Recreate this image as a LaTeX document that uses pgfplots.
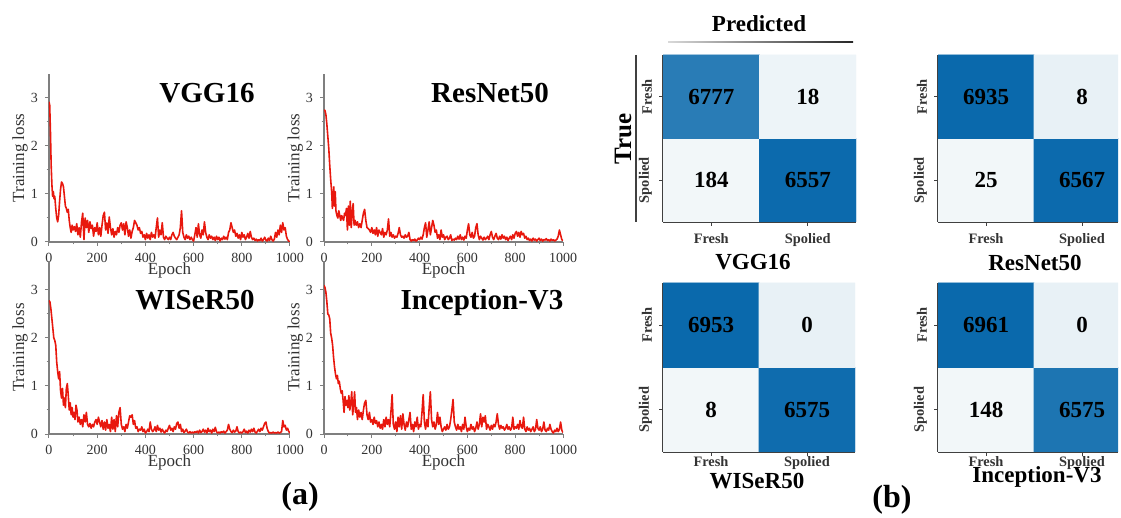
\documentclass[border=0pt]{standalone}
\usepackage{fontspec}
\setmainfont{Liberation Serif}
\usepackage{pgfplots}
\pgfplotsset{compat=1.18}
\definecolor{lossred}{HTML}{E8180E}
\definecolor{axgray}{HTML}{7F7F7F}
\definecolor{txtgray}{HTML}{333333}

\pgfplotsset{
  lossax/.style={
    scale only axis, xmin=0, xmax=1000, ymin=0,
    axis lines=left, axis line style={-, draw=axgray, line width=0.6pt},
    tick style={draw=axgray, line width=0.5pt}, tick align=outside,
    major tick length=2pt, minor tick length=1.2pt,
    xtick={0,200,...,1000}, ytick={0,1,2,3},
    minor x tick num=1, minor y tick num=1,
    ticklabel style={font=\fontsize{7}{8}\selectfont, text=txtgray},
    /pgf/number format/assume math mode=true,
    /pgf/number format/1000 sep={},
    label style={font=\fontsize{8.5}{10}\selectfont, text=txtgray},
    xlabel=Epoch, ylabel=Training loss,
    xlabel style={at={(axis description cs:0.5,0)}, anchor=center, yshift=-14pt},
    ylabel style={at={(axis description cs:-0.12,0.5)}, anchor=center},
  },
  loss/.style={lossred, line width=0.8pt, line join=round},
  cmax/.style={
    scale only axis, xmin=-0.5, ymin=-0.5, ymax=1.5, enlargelimits=false,
    axis x line=bottom, axis y line=left,
    axis line style={-, draw=black!75, line width=0.6pt},
    tick style={draw=black!75, line width=0.5pt}, tick align=outside, major tick length=2pt,
    xtick={0,1}, ytick={0,1},
    xticklabels={Fresh,Spolied}, yticklabels={Spolied,Fresh},
    ticklabel style={font=\fontsize{7.2}{8}\selectfont\bfseries, text=black!80},
    yticklabel style={rotate=90, anchor=south},
    colormap={cmblue}{rgb255(0)=(244,248,250) rgb255(1)=(7,103,171)},
    point meta min=0, point meta max=1,
  },
  cell/.style={matrix plot*, mesh/cols=2, point meta=explicit},
}
\tikzset{cnum/.style={font=\fontsize{11.5}{13}\selectfont\bfseries}}

\begin{document}
\begin{tikzpicture}[x=0.5pt, y=-0.5pt]
\useasboundingbox (0,0) rectangle (1121,518);
\coordinate (L1) at (49,242);
\coordinate (L2) at (324,242);
\coordinate (L3) at (49,434);
\coordinate (L4) at (324,434);
\coordinate (C1) at (663,222);
\coordinate (C2) at (938,222);
\coordinate (C3) at (663,452);
\coordinate (C4) at (938,452);

% ---- (a) training loss curves ----
\begin{axis}[lossax, at={(L1)}, anchor=south west, width=120.5pt, height=84pt, ymax=3.5]
\addplot[loss] coordinates {
(0,2.92)(3,2.85)(6,2.3)(9,1.6)(12,1.2)(15,0.95)(18,1.05)(21,0.9)(24,0.95)(28,0.7)(32,0.5)(36,0.42)(40,0.55)(44,0.85)(48,1.1)(52,1.25)(56,1.22)(60,1.15)(64,0.95)(68,0.75)(72,0.7)(76,0.62)(80,0.68)(84,0.45)(88,0.3)(92,0.2)(96,0.35)(100,0.25)
(105,0.32)(110,0.22)(115,0.38)(120,0.15)(125,0.3)(130,0.1)(135,0.42)(140,0.6)(145,0.05)(150,0.5)(155,0.3)(160,0.45)(165,0.2)(170,0.42)(175,0.28)(180,0.35)(185,0.12)(190,0.3)(195,0.22)(200,0.4)
(205,0.15)(210,0.3)(215,0.12)(220,0.35)(225,0.55)(230,0.62)(235,0.25)(240,0.4)(245,0.18)(250,0.52)(255,0.3)(260,0.15)(265,0.28)(270,0.1)(275,0.22)(280,0.15)(285,0.3)(290,0.2)(295,0.35)(300,0.4)
(305,0.25)(310,0.38)(315,0.15)(320,0.42)(325,0.3)(330,0.12)(335,0.25)(340,0.08)(345,0.22)(350,0.3)(355,0.45)(360,0.4)(365,0.35)(370,0.25)(375,0.3)(380,0.18)(385,0.22)(390,0.1)(395,0.15)(400,0.05)
(405,0.18)(410,0.08)(415,0.15)(420,0.05)(425,0.2)(430,0.1)(435,0.15)(440,0.08)(445,0.3)(450,0.5)(455,0.1)(460,0.25)(465,0.15)(470,0.4)(475,0.1)(480,0.05)(485,0.12)(490,0.08)(495,0.05)(500,0.1)
(505,0.05)(510,0.15)(515,0.2)(520,0.12)(525,0.08)(530,0.05)(535,0.1)(540,0.15)(545,0.3)(550,0.65)(555,0.2)(560,0.1)(565,0.05)(570,0.15)(575,0.08)(580,0.12)(585,0.05)(590,0.1)(595,0.05)(600,0.02)
(605,0.15)(610,0.3)(615,0.1)(620,0.38)(625,0.15)(630,0.08)(635,0.25)(640,0.15)(645,0.42)(650,0.2)(655,0.1)(660,0.05)(665,0.15)(670,0.08)(675,0.12)(680,0.05)(685,0.1)(690,0.03)(695,0.12)(700,0.05)
(705,0.1)(710,0.02)(715,0.08)(720,0.05)(725,0.12)(730,0.06)(735,0.1)(740,0.05)(745,0.2)(750,0.25)(755,0.4)(760,0.3)(765,0.2)(770,0.25)(775,0.12)(780,0.18)(785,0.08)(790,0.15)(795,0.05)(800,0.2)
(805,0.1)(810,0.15)(815,0.05)(820,0.1)(825,0.18)(830,0.08)(835,0.22)(840,0.1)(845,0.05)(850,0.08)(855,0.03)(860,0.06)(865,0.02)(870,0.05)(875,0.03)(880,0.08)(885,0.02)(890,0.05)(895,0.1)(900,0.04)
(905,0.02)(910,0.08)(915,0.03)(920,0.12)(925,0.05)(930,0.02)(935,0.06)(940,0.2)(945,0.1)(950,0.25)(955,0.15)(960,0.35)(965,0.2)(970,0.4)(975,0.25)(980,0.3)(985,0.12)(990,0.05)(995,0.02)(1000,0.0)
};
\end{axis}

\begin{axis}[lossax, at={(L2)}, anchor=south west, width=119.5pt, height=84pt, ymax=3.5]
\addplot[loss] coordinates {
(0,2.75)(4,2.74)(8,2.65)(12,2.45)(16,2.2)(20,1.95)(24,1.6)(28,1.3)(32,1.05)(35,0.7)(38,0.9)(41,1.15)(44,0.75)(47,1.05)(50,0.65)(54,0.55)(58,0.5)(62,0.65)(66,0.55)(70,0.45)(74,0.55)(78,0.5)(82,0.45)(86,0.6)(90,0.55)(94,0.7)(98,0.25)
(102,0.75)(106,0.35)(110,0.85)(114,0.3)(118,0.6)(122,0.8)(126,0.35)(130,0.45)(135,0.35)(140,0.42)(145,0.3)(150,0.38)(155,0.3)(160,0.45)(165,0.6)(170,0.68)(175,0.45)(180,0.3)(185,0.28)(190,0.25)(195,0.2)(200,0.3)
(205,0.18)(210,0.25)(215,0.15)(220,0.3)(225,0.12)(230,0.25)(235,0.2)(240,0.15)(245,0.28)(250,0.1)(255,0.2)(260,0.15)(265,0.25)(270,0.48)(275,0.12)(280,0.2)(285,0.1)(290,0.15)(295,0.08)(300,0.12)
(305,0.1)(310,0.18)(315,0.3)(320,0.15)(325,0.1)(330,0.12)(335,0.08)(340,0.15)(345,0.1)(350,0.12)(355,0.2)(360,0.05)(365,0.02)(370,0.05)(375,0.03)(380,0.06)(385,0.02)(390,0.04)(395,0.08)(400,0.05)
(405,0.1)(410,0.06)(415,0.15)(420,0.3)(425,0.4)(430,0.1)(435,0.25)(440,0.42)(445,0.15)(450,0.3)(455,0.45)(460,0.35)(465,0.2)(470,0.25)(475,0.08)(480,0.15)(485,0.05)(490,0.25)(495,0.1)(500,0.15)
(505,0.05)(510,0.1)(515,0.12)(520,0.05)(525,0.08)(530,0.15)(535,0.03)(540,0.06)(545,0.04)(550,0.08)(555,0.05)(560,0.12)(565,0.06)(570,0.15)(575,0.05)(580,0.1)(585,0.04)(590,0.12)(595,0.08)(600,0.25)
(605,0.38)(610,0.15)(615,0.1)(620,0.2)(625,0.08)(630,0.12)(635,0.3)(640,0.38)(645,0.15)(650,0.05)(655,0.12)(660,0.08)(665,0.04)(670,0.1)(675,0.05)(680,0.08)(685,0.12)(690,0.05)(695,0.15)(700,0.22)
(705,0.1)(710,0.05)(715,0.12)(720,0.18)(725,0.08)(730,0.05)(735,0.12)(740,0.06)(745,0.15)(750,0.08)(755,0.12)(760,0.05)(765,0.1)(770,0.03)(775,0.08)(780,0.12)(785,0.05)(790,0.15)(795,0.08)(800,0.18)
(805,0.22)(810,0.12)(815,0.2)(820,0.1)(825,0.22)(830,0.15)(835,0.18)(840,0.08)(845,0.12)(850,0.05)(855,0.08)(860,0.03)(865,0.06)(870,0.02)(875,0.08)(880,0.04)(885,0.06)(890,0.02)(895,0.05)(900,0.08)
(905,0.03)(910,0.06)(915,0.02)(920,0.05)(925,0.04)(930,0.07)(935,0.03)(940,0.05)(945,0.02)(950,0.06)(955,0.03)(960,0.05)(965,0.02)(970,0.04)(975,0.06)(980,0.12)(985,0.25)(990,0.15)(995,0.05)(1000,0.03)
};
\end{axis}

\begin{axis}[lossax, at={(L3)}, anchor=south west, width=120.5pt, height=86.4pt, ymax=3.6]
\addplot[loss] coordinates {
(0,2.78)(4,2.75)(8,2.6)(12,2.4)(16,2.2)(20,2.0)(24,1.95)(28,1.85)(32,1.5)(36,1.3)(40,1.15)(44,1.3)(48,0.9)(52,0.75)(56,0.95)(60,0.6)(64,0.75)(68,0.55)(72,0.95)(76,1.05)(80,0.8)(84,0.5)(88,0.65)(92,0.4)(96,0.55)(100,0.35)
(104,0.45)(108,0.3)(112,0.6)(116,0.5)(120,0.25)(125,0.35)(130,0.2)(135,0.3)(140,0.15)(145,0.4)(150,0.25)(155,0.45)(160,0.2)(165,0.15)(170,0.22)(175,0.12)(180,0.2)(185,0.15)(190,0.25)(195,0.3)(200,0.2)
(205,0.35)(210,0.25)(215,0.15)(220,0.28)(225,0.1)(230,0.25)(235,0.08)(240,0.3)(245,0.12)(250,0.2)(255,0.05)(260,0.35)(265,0.1)(270,0.3)(275,0.05)(280,0.38)(285,0.15)(290,0.45)(295,0.55)(300,0.2)
(305,0.1)(310,0.15)(315,0.05)(320,0.2)(325,0.12)(330,0.25)(335,0.38)(340,0.35)(345,0.4)(350,0.2)(355,0.28)(360,0.12)(365,0.15)(370,0.05)(375,0.1)(380,0.08)(385,0.15)(390,0.05)(395,0.1)(400,0.02)
(405,0.05)(410,0.1)(415,0.05)(420,0.25)(425,0.1)(430,0.05)(435,0.08)(440,0.15)(445,0.05)(450,0.18)(455,0.08)(460,0.12)(465,0.04)(470,0.1)(475,0.05)(480,0.02)(485,0.08)(490,0.05)(495,0.12)(500,0.18)
(505,0.08)(510,0.12)(515,0.05)(520,0.15)(525,0.1)(530,0.22)(535,0.25)(540,0.12)(545,0.2)(550,0.05)(555,0.1)(560,0.03)(565,0.06)(570,0.1)(575,0.04)(580,0.02)(585,0.05)(590,0.02)(595,0.04)(600,0.02)
(605,0.05)(610,0.03)(615,0.06)(620,0.02)(625,0.08)(630,0.03)(635,0.05)(640,0.1)(645,0.04)(650,0.08)(655,0.02)(660,0.12)(665,0.05)(670,0.08)(675,0.02)(680,0.1)(685,0.05)(690,0.14)(695,0.05)(700,0.02)
(705,0.04)(710,0.02)(715,0.05)(720,0.03)(725,0.06)(730,0.02)(735,0.05)(740,0.08)(745,0.2)(750,0.1)(755,0.05)(760,0.03)(765,0.08)(770,0.04)(775,0.06)(780,0.15)(785,0.05)(790,0.02)(795,0.04)(800,0.02)
(805,0.05)(810,0.1)(815,0.03)(820,0.06)(825,0.02)(830,0.08)(835,0.04)(840,0.1)(845,0.05)(850,0.12)(855,0.04)(860,0.02)(865,0.06)(870,0.1)(875,0.05)(880,0.12)(885,0.08)(890,0.15)(895,0.22)(900,0.25)
(905,0.12)(910,0.05)(915,0.02)(920,0.03)(925,0.02)(930,0.04)(935,0.02)(940,0.03)(945,0.02)(950,0.04)(955,0.02)(960,0.03)(965,0.05)(970,0.28)(975,0.15)(980,0.18)(985,0.08)(990,0.12)(995,0.05)(1000,0.02)
};
\end{axis}

\begin{axis}[lossax, at={(L4)}, anchor=south west, width=119.5pt, height=86.4pt, ymax=3.6]
\addplot[loss] coordinates {
(0,3.1)(4,3.05)(8,2.95)(12,2.75)(16,2.5)(20,2.48)(24,2.4)(28,2.1)(32,2.0)(36,1.85)(40,1.6)(44,1.4)(48,1.25)(52,1.15)(56,1.22)(60,1.05)(64,1.1)(68,0.95)(72,0.85)(76,0.9)(80,0.7)(84,0.45)(88,0.78)(92,0.6)(96,0.7)(100,0.55)
(104,0.8)(108,0.5)(112,0.65)(116,0.88)(120,0.4)(124,0.6)(128,0.88)(132,0.45)(136,0.55)(140,0.3)(145,0.5)(150,0.35)(155,0.45)(160,0.3)(165,0.5)(170,0.65)(175,0.7)(180,0.4)(185,0.3)(190,0.45)(195,0.25)(200,0.3)
(205,0.2)(210,0.35)(215,0.22)(220,0.28)(225,0.15)(230,0.25)(235,0.12)(240,0.2)(245,0.1)(250,0.3)(255,0.15)(260,0.35)(265,0.2)(270,0.3)(275,0.15)(280,0.45)(285,0.82)(290,0.2)(295,0.1)(300,0.25)
(305,0.05)(310,0.35)(315,0.15)(320,0.38)(325,0.1)(330,0.42)(335,0.2)(340,0.08)(345,0.25)(350,0.15)(355,0.3)(360,0.45)(365,0.1)(370,0.2)(375,0.05)(380,0.25)(385,0.15)(390,0.35)(395,0.1)(400,0.2)
(405,0.15)(410,0.45)(415,0.82)(420,0.25)(425,0.1)(430,0.3)(435,0.15)(440,0.55)(445,0.88)(450,0.3)(455,0.15)(460,0.25)(465,0.1)(470,0.2)(475,0.45)(480,0.2)(485,0.35)(490,0.15)(495,0.05)(500,0.1)
(505,0.15)(510,0.08)(515,0.2)(520,0.1)(525,0.15)(530,0.3)(535,0.5)(540,0.72)(545,0.25)(550,0.15)(555,0.08)(560,0.2)(565,0.1)(570,0.15)(575,0.05)(580,0.2)(585,0.1)(590,0.35)(595,0.15)(600,0.05)
(605,0.12)(610,0.08)(615,0.2)(620,0.1)(625,0.15)(630,0.05)(635,0.12)(640,0.25)(645,0.1)(650,0.2)(655,0.42)(660,0.15)(665,0.35)(670,0.25)(675,0.38)(680,0.1)(685,0.2)(690,0.15)(695,0.08)(700,0.18)
(705,0.1)(710,0.2)(715,0.15)(720,0.25)(725,0.42)(730,0.2)(735,0.1)(740,0.18)(745,0.12)(750,0.15)(755,0.08)(760,0.12)(765,0.2)(770,0.1)(775,0.15)(780,0.08)(785,0.12)(790,0.35)(795,0.1)(800,0.15)
(805,0.12)(810,0.2)(815,0.1)(820,0.28)(825,0.15)(830,0.12)(835,0.35)(840,0.1)(845,0.05)(850,0.15)(855,0.08)(860,0.12)(865,0.05)(870,0.1)(875,0.15)(880,0.05)(885,0.1)(890,0.3)(895,0.12)(900,0.08)
(905,0.15)(910,0.05)(915,0.1)(920,0.25)(925,0.08)(930,0.05)(935,0.12)(940,0.08)(945,0.2)(950,0.1)(955,0.05)(960,0.02)(965,0.08)(970,0.05)(975,0.12)(980,0.05)(985,0.1)(990,0.25)(995,0.08)(1000,0.03)
};
\end{axis}

\begin{scope}[font=\fontsize{14.5}{16}\selectfont\bfseries]
\node[anchor=base] at (207,103) {VGG16};
\node[anchor=base] at (490,103) {ResNet50};
\node[anchor=base] at (195,310) {WISeR50};
\node[anchor=base] at (482,310) {Inception-V3};
\end{scope}

% ---- (b) confusion matrices ----
\begin{axis}[cmax, at={(C1)}, anchor=south west, width=96.5pt, height=83.5pt, xmax=1.5]
\addplot[cell] coordinates {(0,0) [0.01] (1,0) [0.97] (0,1) [0.85] (1,1) [0.03]};
\node[cnum] at (axis cs:0,1) {6777};
\node[cnum] at (axis cs:1,1) {18};
\node[cnum] at (axis cs:0,0) {184};
\node[cnum] at (axis cs:1,0) {6557};
\end{axis}

\begin{axis}[cmax, at={(C2)}, anchor=south west, width=90pt, height=83.5pt, xmax=1.375]
\addplot[cell] coordinates {(0,0) [0.01] (1,0) [0.97] (0,1) [0.98] (1,1) [0.05]};
\node[cnum] at (axis cs:0,1) {6935};
\node[cnum] at (axis cs:1,1) {8};
\node[cnum] at (axis cs:0,0) {25};
\node[cnum] at (axis cs:1,0) {6567};
\end{axis}

\begin{axis}[cmax, at={(C3)}, anchor=south west, width=96pt, height=84.5pt, xmax=1.5,
  xticklabel style={yshift=3.5pt}]
\addplot[cell] coordinates {(0,0) [0.01] (1,0) [0.96] (0,1) [0.98] (1,1) [0.05]};
\node[cnum] at (axis cs:0,1) {6953};
\node[cnum] at (axis cs:1,1) {0};
\node[cnum] at (axis cs:0,0) {8};
\node[cnum] at (axis cs:1,0) {6575};
\end{axis}

\begin{axis}[cmax, at={(C4)}, anchor=south west, width=90pt, height=84.5pt, xmax=1.375,
  xticklabel style={yshift=3.5pt}]
\addplot[cell] coordinates {(0,0) [0.01] (1,0) [0.9] (0,1) [0.98] (1,1) [0.05]};
\node[cnum] at (axis cs:0,1) {6961};
\node[cnum] at (axis cs:1,1) {0};
\node[cnum] at (axis cs:0,0) {148};
\node[cnum] at (axis cs:1,0) {6575};
\end{axis}

% headers and captions
\node[anchor=base, font=\fontsize{11.5}{13}\selectfont\bfseries] at (759,32) {Predicted};
\shade[left color=black!15, right color=black!85] (668,41.3) rectangle (853,42.7);
\node[rotate=90, font=\fontsize{12.5}{14}\selectfont\bfseries] at (623,139) {True};
\draw[black!75, line width=0.6pt] (636,55) -- (636,222);
\begin{scope}[font=\fontsize{11.5}{13}\selectfont\bfseries]
\node[anchor=base] at (753,270) {VGG16};
\node[anchor=base] at (1035,271) {ResNet50};
\node[anchor=base] at (757,489) {WISeR50};
\node[anchor=base] at (1037,483) {Inception-V3};
\end{scope}
\node[font=\fontsize{16}{18}\selectfont\bfseries] at (300,497) {(a)};
\node[font=\fontsize{16}{18}\selectfont\bfseries] at (892,500) {(b)};
\end{tikzpicture}
\end{document}
